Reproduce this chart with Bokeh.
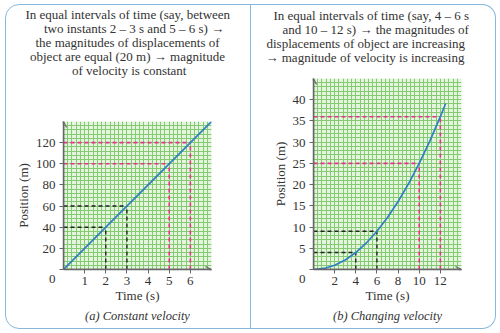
from bokeh.plotting import figure
from bokeh.layouts import row
from bokeh.models import FixedTicker, Arrow, OpenHead, Title, InlineStyleSheet, LinearAxis
from bokeh.embed import file_html
from bokeh.resources import INLINE

# ---------------- data ----------------
time_a = [0, 7]
pos_a = [0, 140]
a_black_t = [2, 3]
a_black_x = [40, 60]
a_pink_t = [5, 6]
a_pink_x = [100, 120]
a_xticks = [1, 2, 3, 4, 5, 6]
a_yticks = [0, 20, 40, 60, 80, 100, 120]

time_b = [0, 1, 2, 3, 4, 5, 6, 7, 8, 9, 10, 11, 12, 12.5]
pos_b = [0, 0.25, 1, 2.25, 4, 6.25, 9, 12.25, 16, 20.25, 25, 30.25, 36, 39.1]
b_black_t = [4, 6]
b_black_x = [4, 9]
b_pink_t = [10, 12]
b_pink_x = [25, 36]
b_xticks = [2, 4, 6, 8, 10, 12]
b_yticks = [0, 5, 10, 15, 20, 25, 30, 35, 40]

title_a = ["In equal intervals of time (say, between",
           "two instants 2 – 3 s and 5 – 6 s) →",
           "the magnitudes of displacements of",
           "object are equal (20 m) → magnitude",
           "of velocity is constant"]
title_b = ["In equal intervals of time (say, 4 – 6 s",
           "and 10 – 12 s) → the magnitudes of",
           "displacements of object are increasing",
           "→ magnitude of velocity is increasing"]
caption_a = "(a) Constant velocity"
caption_b = "(b) Changing velocity"

# left edge of each title line, relative to the plot frame (layout, px)
title_a_offsets = [-38, -19.5, -28, -33.5, 8.5]
title_b_offsets = [-40, -31, -47, -48]

FONT = "Liberation Serif"
TXT = "#333333"
BLUE = "#2f7fc1"
PINK = "#e8318a"
DARK = "#222222"
AXIS = "#666666"
BORDER = "#86b7dc"


def steps(stop, step):
    n = int(round(stop / step))
    return [round(i * step, 4) for i in range(n + 1)]


def make(xmax, ymax, top, xt, yt, xgrid, ygrid, t, x, bt, bx, pt, px,
         titles, offsets, gap, caption, css):
    p = figure(width=250, height=333, x_range=(0, xmax), y_range=(0, ymax),
               output_backend="svg", toolbar_location=None, title=None,
               min_border_left=63, min_border_right=39, min_border_top=top,
               min_border_bottom=64, frame_align=False)
    p.outline_line_color = None
    p.background_fill_color = "#e4f5dd"
    p.border_fill_color = "white"

    # graph-paper grid
    p.xgrid.ticker = FixedTicker(ticks=steps(xmax, xgrid))
    p.ygrid.ticker = FixedTicker(ticks=steps(ymax, ygrid))
    for g in (p.xgrid, p.ygrid):
        g.grid_line_color = "#86c973"
        g.grid_line_width = 1
        g.grid_line_alpha = 1

    # axes
    p.xaxis.ticker = FixedTicker(ticks=xt)
    p.yaxis.ticker = FixedTicker(ticks=yt)
    p.yaxis.major_label_overrides = {0: "\n0"}
    p.xaxis.axis_label = "Time (s)"
    p.yaxis.axis_label = "Position (m)"
    for ax in (p.xaxis, p.yaxis):
        ax.axis_line_color = AXIS
        ax.axis_line_width = 1.5
        ax.major_tick_line_color = AXIS
        ax.major_tick_out = 4
        ax.major_tick_in = 0
        ax.minor_tick_line_color = None
        ax.major_label_text_font = FONT
        ax.major_label_text_font_size = "13px"
        ax.major_label_text_color = TXT
        ax.axis_label_text_font = FONT
        ax.axis_label_text_font_size = "13px"
        ax.axis_label_text_font_style = "normal"
        ax.axis_label_text_color = TXT
    p.xaxis.major_label_standoff = 3
    p.xaxis.axis_label_standoff = 0
    p.yaxis.major_label_standoff = 4
    p.yaxis.axis_label_standoff = 2

    # guide lines
    n = len(bt)
    p.segment(x0=[0] * n, y0=bx, x1=bt, y1=bx, line_color=DARK, line_dash="4 3", line_width=1.4)
    p.segment(x0=bt, y0=[0] * n, x1=bt, y1=bx, line_color=DARK, line_dash="4 3", line_width=1.4)
    m = len(pt)
    p.segment(x0=[0] * m, y0=px, x1=pt, y1=px, line_color=PINK, line_dash="4 3", line_width=1.6)
    p.segment(x0=pt, y0=[0] * m, x1=pt, y1=px, line_color=PINK, line_dash="4 3", line_width=1.6)

    p.line(t, x, line_color=BLUE, line_width=1.7)

    # axis arrowheads
    p.add_layout(Arrow(x_start=0, y_start=0, x_end=xmax, y_end=0, line_color=AXIS, line_width=1.5,
                       end=OpenHead(size=6, line_color=AXIS, line_width=1.2)))
    p.add_layout(Arrow(x_start=0, y_start=0, x_end=0, y_end=ymax, line_color=AXIS, line_width=1.5,
                       end=OpenHead(size=6, line_color=AXIS, line_width=1.2)))

    # invisible spacer between the frame and the description text
    spacer = LinearAxis(ticker=FixedTicker(ticks=[0]), major_label_overrides={0: ""},
                        major_tick_out=gap, major_tick_in=0,
                        axis_line_color=AXIS, axis_line_alpha=0,
                        major_tick_line_color=AXIS, major_tick_line_alpha=0,
                        minor_tick_line_color=None, major_label_standoff=0)
    p.add_layout(spacer, "above")

    # title lines: first added sits closest to the frame
    k = len(titles)
    for i in range(k - 1, -1, -1):
        p.add_layout(Title(text=titles[i], align="left", offset=offsets[i], text_font=FONT,
                           text_font_size="13px", text_font_style="normal", text_color=TXT,
                           standoff=-3), "above")

    p.add_layout(Title(text=caption, align="center", text_font=FONT, text_font_size="12.5px",
                       text_font_style="italic", text_color=TXT, standoff=2), "below")

    p.stylesheets = [InlineStyleSheet(css=css)]
    return p


css_a = (":host { position: relative; }"
         ":host::after { content: ''; position: absolute; left: 5px; top: 4px; width: 245.5px;"
         " height: 325px; box-sizing: border-box; border: 1.5px solid " + BORDER + ";"
         " border-radius: 14px 0 0 14px; pointer-events: none; z-index: 10; }")
css_b = (":host { position: relative; }"
         ":host::after { content: ''; position: absolute; left: 0px; top: 4px; width: 245.5px;"
         " height: 325px; box-sizing: border-box; border: 1.5px solid " + BORDER + ";"
         " border-left: none; border-radius: 0 14px 14px 0; pointer-events: none; z-index: 10; }")

pa = make(7, 140, 121, a_xticks, a_yticks, 0.2, 4, time_a, pos_a, a_black_t, a_black_x,
          a_pink_t, a_pink_x, title_a, title_a_offsets, 45, caption_a, css_a)
pb = make(14, 45, 78, b_xticks, b_yticks, 0.4, 1, time_b, pos_b, b_black_t, b_black_x,
          b_pink_t, b_pink_x, title_b, title_b_offsets, 15, caption_b, css_b)

layout = row(pa, pb)
open("out.html", "w").write(file_html(layout, INLINE))
